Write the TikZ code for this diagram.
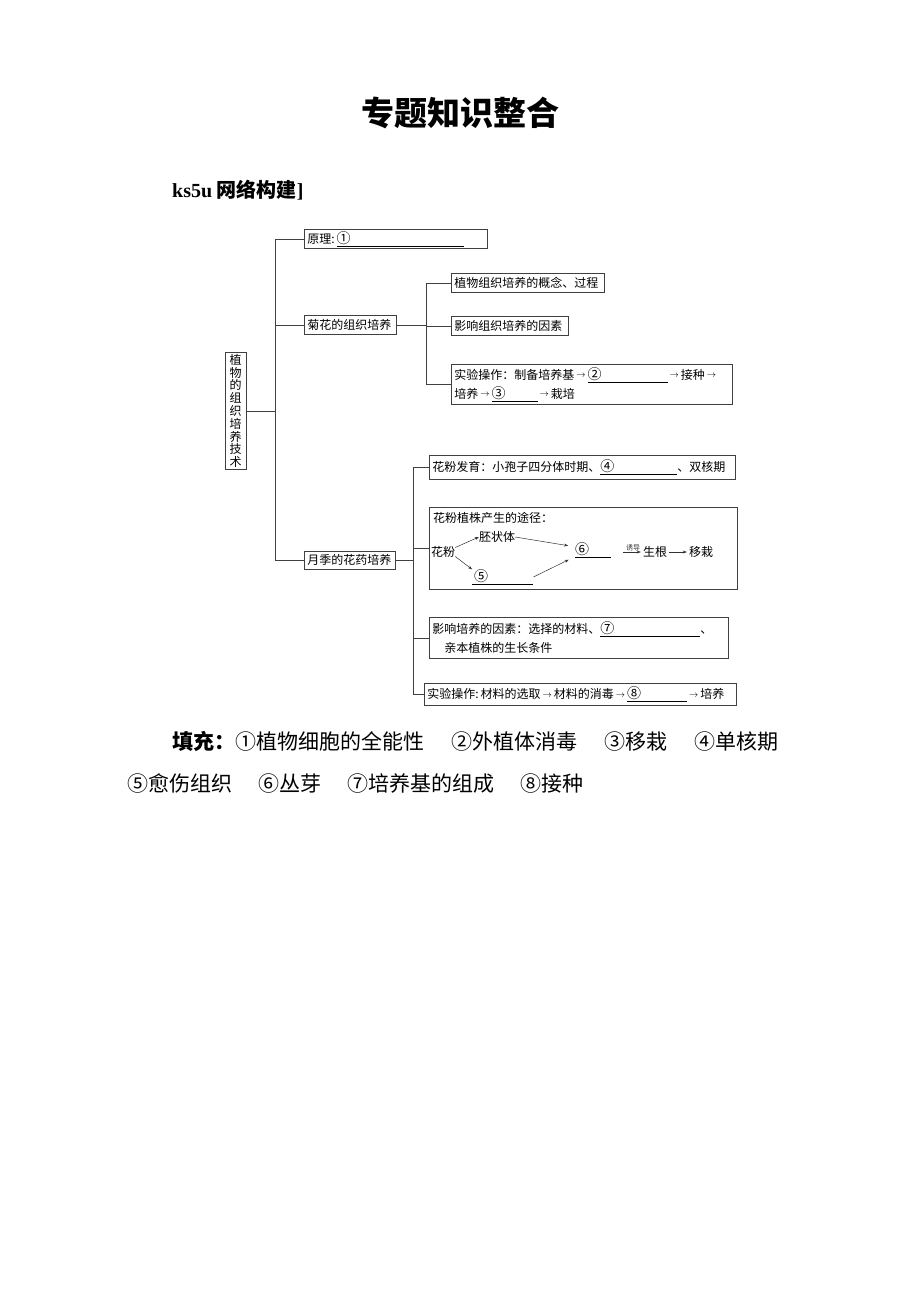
\documentclass[tikz,border=0pt]{standalone}
\usepackage{fontspec}
\setmainfont{Noto Sans CJK SC}
\newfontfamily\ltn{Liberation Serif}
\usetikzlibrary{arrows.meta}
\newcommand\arr{\,\raisebox{1.5pt}{\fontsize{9}{9}\selectfont$\rightarrow$}\,}
\newcommand\blankline[2]{\underline{\makebox[#1][l]{\fontsize{14}{14}\selectfont#2}}}
\tikzset{
	box/.style={draw=black!75, line width=.6pt, anchor=north west, inner xsep=3pt, inner ysep=0pt, align=left, font=\fontsize{12}{19}\selectfont},
	txt/.style={inner sep=0pt, font=\fontsize{12}{14}\selectfont},
	lnk/.style={black!75, line width=.6pt},
	arr/.style={black!80, line width=.5pt, -{Stealth[length=4pt,width=3pt]}}
}
\begin{document}
\begin{tikzpicture}[x=1pt,y=-1pt]
		\useasboundingbox (0,0) rectangle (920,1302);
		\fill[white] (0,0) rectangle (920,1302);
		\node[font=\fontsize{33}{33}\selectfont\bfseries] (title) at (460,113) {专题知识整合};
		\node[anchor=west, inner sep=0pt, font=\fontsize{20}{20}\selectfont\bfseries] (net) at (172,190) {{\ltn\bfseries ks5u} 网络构建{\ltn\bfseries ]}};
		\node[draw=black!75, line width=.6pt, inner sep=2pt, minimum width=21pt, align=center, font=\fontsize{12}{12.8}\selectfont] (root) at (235.5,411) {植\\物\\的\\组\\织\\培\\养\\技\\术};
		\node[box, text width=177pt, minimum height=19pt] (yuanli) at (304,229) {原理:\,\blankline{127pt}{①}};
		\node[box, text width=86pt, minimum height=19pt] (juhua) at (304,315) {菊花的组织培养};
		\node[box, text width=85pt, minimum height=18pt] (yueji) at (304,551) {月季的花药培养};
		\node[box, text width=147pt, minimum height=19pt] (gainian) at (451,273) {植物组织培养的概念、过程};
		\node[box, text width=111pt, minimum height=19pt] (yinsu1) at (451,316) {影响组织培养的因素};
		\node[box, text width=275pt, minimum height=40pt] (shiyan1) at (451,364) {实验操作：制备培养基\arr\blankline{80pt}{②}\arr 接种\arr\\培养\arr\blankline{46pt}{③}\arr 栽培};
		\node[box, text width=300pt, minimum height=24pt] (fayu) at (429,455) {花粉发育：小孢子四分体时期、\blankline{77pt}{④}、双核期};
		\node[box, minimum width=308pt, minimum height=82pt] (tujing) at (429,507) {};
		\node[box, text width=293pt, minimum height=41pt] (yinsu2) at (429,617) {影响培养的因素：选择的材料、\blankline{100pt}{⑦}、\\\hspace*{12pt}亲本植株的生长条件};
		\node[box, text width=306pt, minimum height=22pt] (shiyan2) at (424,683) {实验操作:\,材料的选取\arr 材料的消毒\arr\blankline{60pt}{⑧}\arr 培养};
		\coordinate (tr) at (275,0);
		\coordinate (tr2) at (426,0);
		\coordinate (tr3) at (413,0);
		\draw[lnk] (root.east) -- (root.east -| tr);
		\draw[lnk] (yuanli.west) -- (yuanli.west -| tr) -- (yueji.west -| tr) -- (yueji.west);
		\draw[lnk] (juhua.west) -- (juhua.west -| tr);
		\draw[lnk] (juhua.east) -- (juhua.east -| tr2);
		\draw[lnk] (gainian.west) -- (gainian.west -| tr2) -- (shiyan1.west -| tr2) -- (shiyan1.west);
		\draw[lnk] (yinsu1.west) -- (yinsu1.west -| tr2);
		\draw[lnk] (yueji.east) -- (yueji.east -| tr3);
		\draw[lnk] (fayu.west) -- (fayu.west -| tr3) -- (shiyan2.west -| tr3) -- (shiyan2.west);
		\draw[lnk] (tujing.west) -- (tujing.west -| tr3);
		\draw[lnk] (yinsu2.west) -- (yinsu2.west -| tr3);
		\node[txt, anchor=west] (tjtitle) at (433,518) {花粉植株产生的途径：};
		\node[txt] (hf) at (443,552) {花粉};
		\node[txt] (pzt) at (497,537) {胚状体};
		\node[txt, anchor=west] (n5) at (472,577) {\blankline{61pt}{\hspace{2pt}⑤}};
		\node[txt, anchor=west] (n6) at (575,550) {\blankline{36pt}{⑥}};
		\node[txt] (sg) at (655,552) {生根};
		\node[txt] (yz) at (701,552) {移栽};
		\draw[arr] (hf.20) -- (pzt.west);
		\draw[arr] (hf.-20) -- (n5.north west);
		\draw[arr, shorten >=7pt] (pzt.east) -- (n6.170);
		\draw[arr, shorten >=7pt] (n5.east) -- (n6.200);
		\draw[arr, shorten <=12pt, shorten >=2pt] (n6.east |- sg.west) -- (sg.west) node[midway, above=1pt, inner sep=0pt, font=\fontsize{7}{7}\selectfont, xshift=6pt] {诱导};
		\draw[arr, shorten <=2pt, shorten >=2pt] (sg.east) -- (yz.west);
		\node[anchor=west, inner sep=0pt, font=\fontsize{21}{21}\selectfont] (fill1) at (172,741) {\textbf{填充：}①植物细胞的全能性\hspace{27pt}②外植体消毒\hspace{27pt}③移栽\hspace{27pt}④单核期};
		\node[anchor=west, inner sep=0pt, font=\fontsize{21}{21}\selectfont] (fill2) at (127,783) {⑤愈伤组织\hspace{26pt}⑥丛芽\hspace{26pt}⑦培养基的组成\hspace{26pt}⑧接种};
	\end{tikzpicture}
\end{document}
